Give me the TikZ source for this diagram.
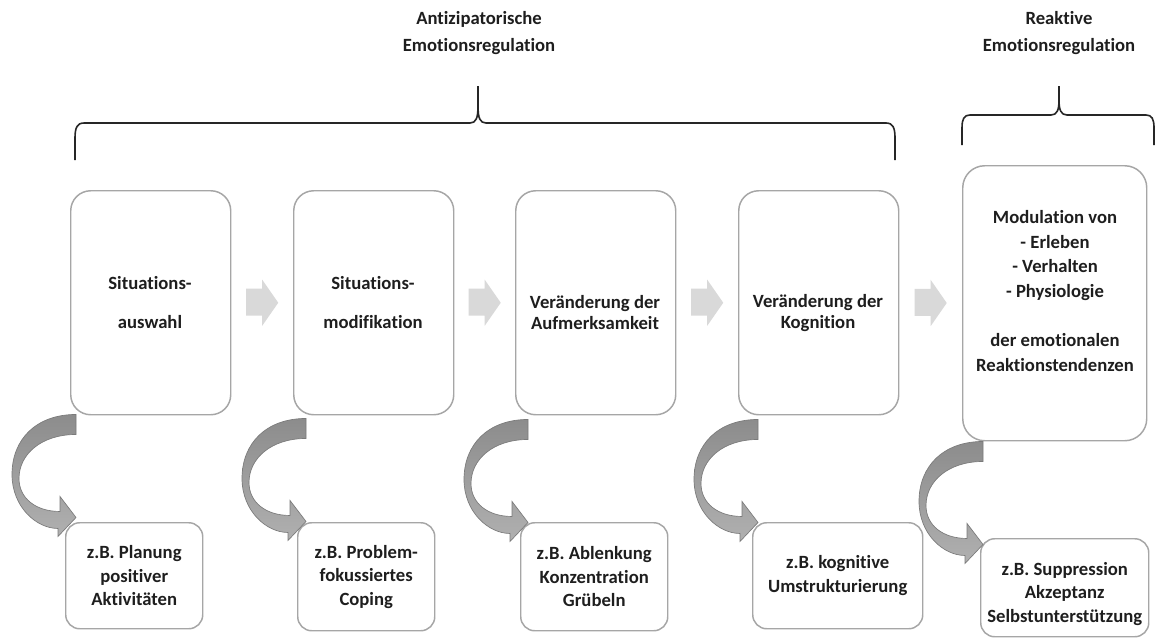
\documentclass[tikz,border=0pt]{standalone}
\usepackage{fontspec}
\setmainfont{Carlito}[Ligatures={NoCommon}]
\usetikzlibrary{calc}
\definecolor{boxline}{HTML}{A6A6A6}
\definecolor{txt}{HTML}{1E1E1E}
\definecolor{chev}{HTML}{D9D9D9}
\definecolor{bendtop}{HTML}{8C8C8C}
\definecolor{bendbot}{HTML}{B0B0B0}
\definecolor{bendline}{HTML}{7A7A7A}
\definecolor{bracecol}{HTML}{262626}

\tikzset{
  stage/.style={draw=boxline, line width=1.1pt, rounded corners=15pt, fill=white,
    inner sep=0pt, anchor=north west},
  example/.style={draw=boxline, line width=1.1pt, rounded corners=10.5pt, fill=white,
    inner sep=0pt, anchor=north west},
  lbl/.style={align=center, text=txt, inner sep=0pt},
  exlbl/.style={lbl, font=\fontsize{14}{17.6}\selectfont\bfseries},
  heading/.style={align=center, text=txt, inner sep=0pt,
    font=\fontsize{14}{20.25}\selectfont\bfseries},
  brace/.style={draw=bracecol, line width=1.2pt},
  bendarrow/.pic={
    \path[top color=bendtop, bottom color=bendbot, draw=bendline, line width=0.5pt,
      line join=miter]
      (0,0) .. controls (-40,0) and (-64,25) .. (-64,60)
            .. controls (-64,92) and (-40,114) .. (-18,114)
      -- (-18,122) -- (0,103) -- (-16,82) -- (-16,97)
            .. controls (-40,97) and (-57,84) .. (-57,64)
            .. controls (-57,40) and (-35,20) .. (0,20) -- cycle;
  },
  chevron/.pic={
    \fill[chev] (-16,-14) -- (0,-14) -- (0,-23) -- (16,0) -- (0,23) -- (0,13)
      -- (-16,13) -- cycle;
  }
}

\begin{document}
\begin{tikzpicture}[x=0.75pt,y=-0.75pt]
\useasboundingbox[fill=white] (0,0) rectangle (1155,643);

% headings
\node[heading] (antiz) at (479,33) {Antizipatorische\\Emotionsregulation};
\node[heading] (reakt) at (1059,33) {Reaktive\\Emotionsregulation};

% braces
\draw[brace] (75,160) -- (75,138) .. controls (75,128) and (77,123) .. (84,123)
  -- (470,123) .. controls (476,123) and (478,118) .. (478,106) -- (478,86)
  (478,106) .. controls (478,118) and (480,123) .. (486,123)
  -- (886,123) .. controls (893,123) and (895,128) .. (895,138) -- (895,160);
\draw[brace] (962,145) -- (962,128) .. controls (962,119) and (964,115) .. (970,115)
  -- (1051,115) .. controls (1057,115) and (1059,110) .. (1059,100) -- (1059,86)
  (1059,100) .. controls (1059,110) and (1061,115) .. (1067,115)
  -- (1146,115) .. controls (1152,115) and (1154,119) .. (1154,128) -- (1154,145);

% stage boxes
\node[stage, minimum width=120pt, minimum height=168pt] (b1) at (70,190) {};
\node[stage, minimum width=120pt, minimum height=168pt] (b2) at (293,190) {};
\node[stage, minimum width=120pt, minimum height=168pt] (b3) at (515,190) {};
\node[stage, minimum width=120pt, minimum height=168pt] (b4) at (738,190) {};
\node[stage, minimum width=138pt, minimum height=206.25pt, rounded corners=16.5pt] (b5) at (962,165) {};

% stage labels
\node[lbl, font=\fontsize{14}{29.25}\selectfont\bfseries] (t1) at (150,303) {Situations-\\auswahl};
\node[lbl, font=\fontsize{14}{29.25}\selectfont\bfseries] (t2) at (373,303) {Situations-\\modifikation};
\node[lbl, font=\fontsize{14}{15.75}\selectfont\bfseries] (t3) at (595,313) {Veränderung der\\Aufmerksamkeit};
\node[lbl, font=\fontsize{14}{15.75}\selectfont\bfseries] (t4) at (818,313) {Veränderung der\\Kognition};
\node[lbl, font=\fontsize{14}{18.5}\selectfont\bfseries] (t5) at (1055,291)
  {Modulation von\\- Erleben\\- Verhalten\\- Physiologie\\[18.5pt]der emotionalen\\Reaktionstendenzen};

% arrows between stages
\pic at ($(b1.east)!0.5!(b2.west)$) {chevron};
\pic at ($(b2.east)!0.5!(b3.west)$) {chevron};
\pic at ($(b3.east)!0.5!(b4.west)$) {chevron};
\pic at ($(b4.east)!0.5!(b5.west)$) {chevron};

% example boxes
\node[example, minimum width=102.75pt, minimum height=79.5pt] (e1) at (65,522) {};
\node[example, minimum width=102.75pt, minimum height=81pt] (e2) at (297,522) {};
\node[example, minimum width=110.25pt, minimum height=81pt] (e3) at (520,522) {};
\node[example, minimum width=127.5pt, minimum height=79.5pt] (e4) at (752,522) {};
\node[example, minimum width=126pt, minimum height=73.5pt] (e5) at (980,538) {};

% example labels
\node[exlbl] (x1) at (e1.center) {z.B. Planung\\positiver\\Aktivitäten};
\node[exlbl] (x2) at (e2.center) {z.B. Problem-\\fokussiertes\\Coping};
\node[exlbl] (x3) at (e3.center) {z.B. Ablenkung\\Konzentration\\Grübeln};
\node[exlbl] (x4) at (e4.center) {z.B. kognitive\\Umstrukturierung};
\node[exlbl] (x5) at ($(e5.center)+(0,6)$) {z.B. Suppression\\Akzeptanz\\Selbstunterstützung};

% curved arrows from each stage to its example
\pic at ($(b1.south west)+(6,-1)$) {bendarrow};
\pic at ($(b2.south west)+(13,3)$) {bendarrow};
\pic at ($(b3.south west)+(13,4)$) {bendarrow};
\pic at ($(b4.south west)+(20,4)$) {bendarrow};
\pic at ($(b5.south west)+(21,0)$) {bendarrow};
\end{tikzpicture}
\end{document}
